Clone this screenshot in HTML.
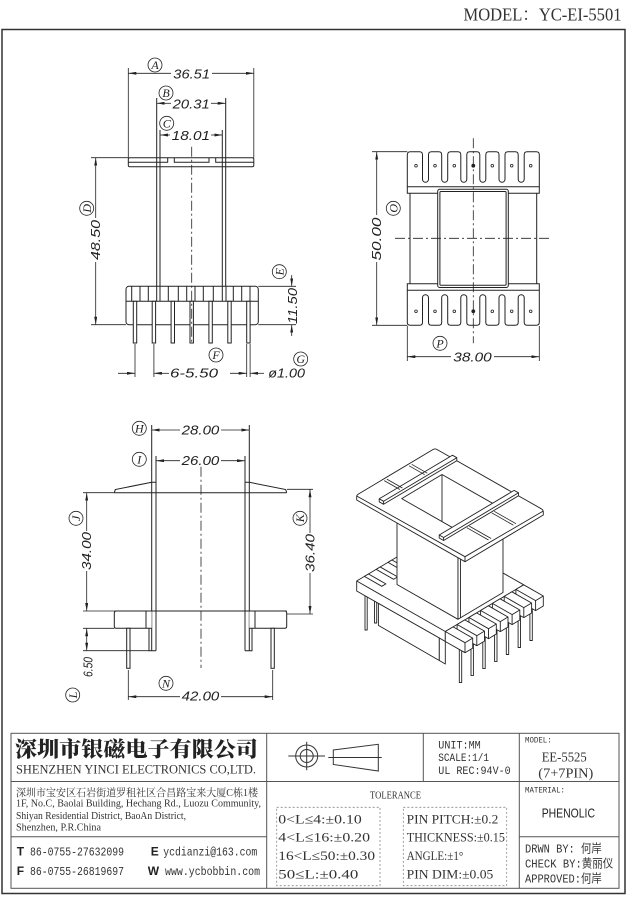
<!DOCTYPE html>
<html><head><meta charset="utf-8">
<style>
html,body{margin:0;padding:0;background:#fff;}
svg{display:block;}
.d{font-family:"Liberation Sans",sans-serif;font-style:italic;font-size:13px;fill:#222;}
.c{font-family:"Liberation Serif",serif;font-style:italic;font-size:12px;fill:#222;}
.t{font-family:"Liberation Serif","Noto Serif CJK SC",serif;fill:#333;}
.m{font-family:"Liberation Mono","Noto Sans CJK SC",monospace;fill:#333;}
</style></head><body>
<svg width="638" height="900" viewBox="0 0 638 900" xmlns="http://www.w3.org/2000/svg">
<defs>
<marker id="ar" viewBox="0 0 8 3" refX="8" refY="1.5" markerWidth="8" markerHeight="3" orient="auto-start-reverse" markerUnits="userSpaceOnUse"><path d="M0,0L8,1.5L0,3z" fill="#222"/></marker>
</defs>
<rect width="638" height="900" fill="#fff"/>

<!-- header -->
<text class="t" x="463.5" y="20.7" font-size="18" textLength="158" lengthAdjust="spacingAndGlyphs" fill="#222">MODEL：YC-EI-5501</text>
<rect x="2" y="29.5" width="623" height="864" fill="none" stroke="#333" stroke-width="1.5"/>

<!-- ================= VIEW 1 ================= -->
<g stroke="#222" stroke-width="1" fill="none">
  <rect x="128.3" y="157.7" width="125.5" height="9" rx="1.5" fill="#fff"/>
  <path d="M128.3,162.3H167.7V157.7M174.3,157.7V162.3H209V157.7M215.7,157.7V162.3H253.8"/>
  <path d="M156.7,98V286.3M160,130V286.3M222.3,130V286.3M225.7,98V286.3"/>
  <rect x="126" y="286.3" width="132.3" height="38.4" rx="3" fill="#fff"/>
  <path d="M126,301.3H258.3M131.7,286.3V301.3M140,286.3V301.3M148.3,286.3V301.3M156.7,286.3V301.3M160,286.3V301.3M168.3,286.3V301.3M178.3,286.3V301.3M186.7,286.3V301.3M195,286.3V301.3M203.3,286.3V301.3M213.3,286.3V301.3M222.3,286.3V301.3M226,286.3V301.3M233.3,286.3V301.3M241.7,286.3V301.3M250,286.3V301.3"/>
  <g fill="#fff">
    <rect x="133.3" y="301.3" width="3.4" height="41.7"/>
    <rect x="152.2" y="301.3" width="3.4" height="41.7"/>
    <rect x="171.1" y="301.3" width="3.4" height="41.7"/>
    <rect x="190" y="301.3" width="3.4" height="41.7"/>
    <rect x="208.9" y="301.3" width="3.4" height="41.7"/>
    <rect x="227.8" y="301.3" width="3.4" height="41.7"/>
    <rect x="246.7" y="301.3" width="3.4" height="41.7"/>
  </g>
  <path d="M191.7,146.7V343" stroke-dasharray="10 3 2 3" stroke-width="0.8"/>
</g>
<g stroke="#222" stroke-width="0.8" fill="none">
  <!-- ext lines -->
  <path d="M128.3,68V157.7M253.8,68V157.7M91,157.7H128.3M91,324.7H126M258.3,286.3H296M258.3,324.7H296M135,344V377M153.9,344V377M246.7,344V377M250.1,344V377"/>
  <!-- dims -->
  <path d="M128.3,73.3H171" marker-start="url(#ar)"/><path d="M212,73.3H253.8" marker-end="url(#ar)"/>
  <path d="M156.7,103.3H171" marker-start="url(#ar)"/><path d="M211,103.3H225.7" marker-end="url(#ar)"/>
  <path d="M160,135H170" marker-start="url(#ar)"/><path d="M211,135H222.3" marker-end="url(#ar)"/>
  <path d="M95.7,157.7V218" marker-start="url(#ar)"/><path d="M95.7,262V324.7" marker-end="url(#ar)"/>
  <path d="M291.7,275V286.3" marker-end="url(#ar)"/><path d="M291.7,336V324.7" marker-end="url(#ar)"/>
  <path d="M118,373.3H135" marker-end="url(#ar)"/><path d="M169,373.3H153.9" marker-end="url(#ar)"/>
  <path d="M230,373.3H246.7" marker-end="url(#ar)"/><path d="M264,373.3H250.1" marker-end="url(#ar)"/>
</g>
<text class="d" x="173.3" y="78.5" textLength="36.7" lengthAdjust="spacingAndGlyphs">36.51</text>
<text class="d" x="172.7" y="108.3" textLength="37" lengthAdjust="spacingAndGlyphs">20.31</text>
<text class="d" x="171.7" y="140" textLength="38.3" lengthAdjust="spacingAndGlyphs">18.01</text>
<text class="d" transform="translate(95.7,260) rotate(-90)" x="0" y="4.5" textLength="40" lengthAdjust="spacingAndGlyphs">48.50</text>
<text class="d" transform="translate(292.5,324) rotate(-90)" x="0" y="4.5" textLength="36" lengthAdjust="spacingAndGlyphs">11.50</text>
<text class="d" x="170" y="377.5" textLength="48" lengthAdjust="spacingAndGlyphs">6-5.50</text>
<text class="d" x="268.3" y="377.5" textLength="36.7" lengthAdjust="spacingAndGlyphs">ø1.00</text>
<g stroke="#222" stroke-width="0.8" fill="#fff">
  <circle cx="155" cy="65" r="7"/><circle cx="166" cy="93" r="7"/><circle cx="166.7" cy="123.3" r="7"/>
  <circle cx="86.7" cy="208.3" r="7"/><circle cx="279.3" cy="271.7" r="7"/>
  <circle cx="216" cy="355" r="7"/><circle cx="300.7" cy="359" r="7"/>
</g>
<text class="c" x="155" y="69.2" text-anchor="middle">A</text>
<text class="c" x="166" y="97.2" text-anchor="middle">B</text>
<text class="c" x="166.7" y="127.5" text-anchor="middle">C</text>
<text class="c" transform="translate(86.7,208.3) rotate(-90)" x="0" y="4.2" text-anchor="middle">D</text>
<text class="c" transform="translate(279.3,271.7) rotate(-90)" x="0" y="4.2" text-anchor="middle">E</text>
<text class="c" x="216" y="359.2" text-anchor="middle">F</text>
<text class="c" x="300.7" y="363.2" text-anchor="middle">G</text>

<!-- ================= VIEW 2 ================= -->
<g stroke="#222" stroke-width="1" fill="none">
  <g id="comb">
    <path fill="#fff" d="M407.3,193.3V154.7Q407.3,151.7 410.3,151.7H419.5Q422.5,151.7 422.5,154.7V179.3A3,3 0 0 0 428.5,179.3V154.7Q428.5,151.7 431.5,151.7H438.7Q441.7,151.7 441.7,154.7V179.3A3,3 0 0 0 447.7,179.3V154.7Q447.7,151.7 450.7,151.7H457.8Q460.8,151.7 460.8,154.7V179.3A3,3 0 0 0 466.8,179.3V154.7Q466.8,151.7 469.8,151.7H476.8Q479.8,151.7 479.8,154.7V179.3A3,3 0 0 0 485.8,179.3V154.7Q485.8,151.7 488.8,151.7H496Q499,151.7 499,154.7V179.3A3,3 0 0 0 505,179.3V154.7Q505,151.7 508,151.7H515.2Q518.2,151.7 518.2,154.7V179.3A3,3 0 0 0 524.2,179.3V154.7Q524.2,151.7 527.2,151.7H536.3Q539.3,151.7 539.3,154.7V193.3Z"/>
    <path d="M407.3,186.7H539.3"/>
    <g stroke-width="0.8">
      <circle cx="416" cy="165.7" r="1.3"/><circle cx="435" cy="165.7" r="1.3"/><circle cx="454.3" cy="165.7" r="1.3"/>
      <circle cx="473.3" cy="165.7" r="1.5" fill="#222"/><circle cx="492.3" cy="165.7" r="1.3"/><circle cx="511.7" cy="165.7" r="1.3"/><circle cx="530.7" cy="165.7" r="1.3"/>
    </g>
  </g>
  <use href="#comb" transform="matrix(1,0,0,-1,0,477)"/>
  <path d="M410,193.3V283.7M536.7,193.3V283.7"/>
  <rect x="437.7" y="189.3" width="70.6" height="98.2" rx="2" fill="#fff"/>
  <rect x="439.9" y="191.5" width="66.2" height="93.8" rx="1"/>
  <path d="M473.3,138.3V343.3M395,238.3H551.7" stroke-dasharray="10 3 2 3" stroke-width="0.8"/>
</g>
<g stroke="#222" stroke-width="0.8" fill="none">
  <path d="M372,151.7H407.3M372,325.3H407.3M407.3,326V361M539.3,326V361"/>
  <path d="M376.7,151.7V215" marker-start="url(#ar)"/><path d="M376.7,262V325.3" marker-end="url(#ar)"/>
  <path d="M407.3,356.7H451" marker-start="url(#ar)"/><path d="M494,356.7H539.3" marker-end="url(#ar)"/>
</g>
<text class="d" transform="translate(376.7,260.5) rotate(-90)" x="0" y="4.5" textLength="43" lengthAdjust="spacingAndGlyphs">50.00</text>
<text class="d" x="453.3" y="361.7" textLength="38.4" lengthAdjust="spacingAndGlyphs">38.00</text>
<g stroke="#222" stroke-width="0.8" fill="#fff"><circle cx="393.3" cy="208.3" r="7"/><circle cx="440" cy="343.3" r="7"/></g>
<text class="c" transform="translate(393.3,208.3) rotate(-90)" x="0" y="4.2" text-anchor="middle">O</text>
<text class="c" x="440" y="347.5" text-anchor="middle">P</text>

<!-- ================= VIEW 3 ================= -->
<g stroke="#222" stroke-width="1" fill="none">
  <g id="half3">
    <path d="M114.3,492.7L115.3,489.5L151.7,482.3"/>
    <path d="M151.7,425V650.7M156,456V650.7M151.7,482.3H156"/>
    <path fill="#fff" d="M151.7,611H116.3Q114.3,611 114.3,613V626.3Q114.3,628.3 116.3,628.3H151.7"/>
    <path d="M146,611V628.3M149,628.3V650.7H156"/>
    <rect x="126.7" y="628.3" width="3.3" height="40" fill="#fff"/>
  </g>
  <use href="#half3" transform="matrix(-1,0,0,1,401,0)"/>
  <path d="M114.3,492.7H286.7M114.3,611H286.7"/>
  <path d="M201,466.7V668" stroke-dasharray="10 3 2 3" stroke-width="0.8"/>
</g>
<g stroke="#222" stroke-width="0.8" fill="none">
  <path d="M83,492.7H114.3M83,611H114.3M83,628.3H114.3M83,650.7H149M287,489.3H313M287,614H313M128.3,670V700M272.7,670V700"/>
  <path d="M151.7,430H180" marker-start="url(#ar)"/><path d="M221,430H249.3" marker-end="url(#ar)"/>
  <path d="M156,460.7H180" marker-start="url(#ar)"/><path d="M221,460.7H245" marker-end="url(#ar)"/>
  <path d="M86.7,492.7V531" marker-start="url(#ar)"/><path d="M86.7,571V611" marker-end="url(#ar)"/>
  <path d="M310,489.3V533" marker-start="url(#ar)"/><path d="M310,573V614" marker-end="url(#ar)"/>
  <path d="M86.7,628.3V650.7" marker-start="url(#ar)" marker-end="url(#ar)"/>
  <path d="M128.3,696.7H180" marker-start="url(#ar)"/><path d="M221,696.7H272.7" marker-end="url(#ar)"/>
</g>
<text class="d" x="181.7" y="434.3" textLength="37.6" lengthAdjust="spacingAndGlyphs">28.00</text>
<text class="d" x="181.7" y="465" textLength="37.6" lengthAdjust="spacingAndGlyphs">26.00</text>
<text class="d" transform="translate(86.7,570) rotate(-90)" x="0" y="4.5" textLength="38" lengthAdjust="spacingAndGlyphs">34.00</text>
<text class="d" transform="translate(310,572) rotate(-90)" x="0" y="4.5" textLength="38" lengthAdjust="spacingAndGlyphs">36.40</text>
<text class="d" transform="translate(88,677) rotate(-90)" x="0" y="4.5" textLength="20" lengthAdjust="spacingAndGlyphs">6.50</text>
<text class="d" x="181.7" y="700.7" textLength="37.6" lengthAdjust="spacingAndGlyphs">42.00</text>
<g stroke="#222" stroke-width="0.8" fill="#fff">
  <circle cx="139.3" cy="428.3" r="7"/><circle cx="139.3" cy="459.3" r="7"/>
  <circle cx="76" cy="518.3" r="7"/><circle cx="300" cy="518.3" r="7"/>
  <circle cx="72.7" cy="695" r="7"/><circle cx="166" cy="683.3" r="7"/>
</g>
<text class="c" x="139.3" y="432.5" text-anchor="middle">H</text>
<text class="c" x="139.3" y="463.5" text-anchor="middle">I</text>
<text class="c" transform="translate(76,518.3) rotate(-90)" x="0" y="4.2" text-anchor="middle">J</text>
<text class="c" transform="translate(300,518.3) rotate(-90)" x="0" y="4.2" text-anchor="middle">K</text>
<text class="c" transform="translate(72.7,695) rotate(-90)" x="0" y="4.2" text-anchor="middle">L</text>
<text class="c" x="166" y="687.5" text-anchor="middle">N</text>

<!-- ================= VIEW 4 (3D) ================= -->
<g stroke="#222" stroke-width="0.9" fill="#fff" stroke-linejoin="round">
  <rect x="365" y="590" width="2.2" height="40"/>
  <rect x="374.5" y="596" width="2.2" height="27"/>
  <path d="M356.7,581L435,534.3L523.7,584.8V594.8L445.3,641.5L356.7,591Z"/>
  <path fill="none" d="M356.7,581L445.3,631.5L523.7,584.8M445.3,631.5V641.5"/>
  <path d="M378.4,603.4L439.3,638V660.5L378.4,625.4Z"/>
  <path d="M439.3,638L445.3,641.5V664L439.3,660.5Z"/>
  <path d="M364.4,576.4L381.8,586.3L385.9,583.9L368.5,574Z"/>
  <path d="M376.2,569.4L393.6,579.3L397.6,576.9L380.2,567Z"/>
  <path d="M388,562.4L405.4,572.3L409.4,569.9L392,560Z"/>
  <path d="M397,503.5L458,538.3V619.3L397,584.5Z"/>
  <path d="M458,538.3L503,511.5V592.5L458,619.3Z"/>
  <path fill="none" d="M460.5,537V618"/>
  <!-- front pins -->
  <rect x="459.3" y="645.6" width="2.4" height="37"/>
  <rect x="471" y="638.6" width="2.4" height="37"/>
  <rect x="482.8" y="631.6" width="2.4" height="37"/>
  <rect x="494.6" y="624.6" width="2.4" height="37"/>
  <rect x="506.3" y="617.5" width="2.4" height="37"/>
  <rect x="518.1" y="610.5" width="2.4" height="37"/>
  <rect x="529.9" y="603.5" width="2.4" height="37"/>
  <!-- fingers back to front -->
  <path d="M523.7,584.8L543.3,596V606L535.6,610.6L515.9,599.4V589.4Z"/>
  <path fill="none" d="M515.9,589.4L535.6,600.6L543.3,596M535.6,600.6V610.6"/>
  <path d="M511.9,591.8L531.6,603V613L523.8,617.6L504.2,606.4V596.4Z"/>
  <path fill="none" d="M504.2,596.4L523.8,607.6L531.6,603M523.8,607.6V617.6"/>
  <path d="M500.1,598.8L519.8,610V620L512.1,624.6L492.4,613.4V603.4Z"/>
  <path fill="none" d="M492.4,603.4L512.1,614.6L519.8,610M512.1,614.6V624.6"/>
  <path d="M488.4,605.8L508,617V627L500.3,631.6L480.6,620.5V610.5Z"/>
  <path fill="none" d="M480.6,610.5L500.3,621.6L508,617M500.3,621.6V631.6"/>
  <path d="M476.6,612.9L496.3,624V634L488.5,638.7L468.9,627.5V617.5Z"/>
  <path fill="none" d="M468.9,617.5L488.5,628.7L496.3,624M488.5,628.7V638.7"/>
  <path d="M464.8,619.9L484.5,631.1V641.1L476.8,645.7L457.1,634.5V624.5Z"/>
  <path fill="none" d="M457.1,624.5L476.8,635.7L484.5,631.1M476.8,635.7V645.7"/>
  <path d="M453.1,626.9L472.7,638.1V648.1L465,652.7L445.3,641.5V631.5Z"/>
  <path fill="none" d="M445.3,631.5L465,642.7L472.7,638.1M465,642.7V652.7"/>
  <!-- top plate -->
  <path d="M358.5,494L433,449.5Q435,448.3 437,449.5L541.3,508.8Q543.3,510 543.3,512V515L465,561.7L356.7,500V496.5Q356.7,495 358.5,494Z"/>
  <path fill="none" d="M356.7,496L465,556.7L543.3,511M465,556.7V561.7"/>
  <path d="M401.7,498.6L442,474.5L497.7,506.2L457.3,530.3Z"/>
  <path fill="none" d="M442,474.5V521.6"/>
  <!-- bars -->
  <path d="M379.2,498.8L452.4,455.2L456.8,457.7V460.7L383.6,504.3L379.2,501.8Z"/>
  <path fill="none" d="M379.2,498.8L383.6,501.3L456.8,457.7M383.6,501.3V504.3"/>
  <path d="M439.2,535L514.1,490.4L518.5,492.8V495.8L443.6,540.5L439.2,538Z"/>
  <path fill="none" d="M439.2,535L443.6,537.5L518.5,492.8M443.6,537.5V540.5"/>
  <!-- stripes -->
  <path fill="none" stroke-width="0.8" d="M384.2,480.6L399.9,489.5M386.8,479.1L402.4,488M409.1,465.8L424.7,474.7M411.7,464.3L427.3,473.2M466.8,527.7L488.5,540M469.3,526.1L491.1,538.5M491.7,512.8L513.4,525.2M494.2,511.3L516,523.7"/>
</g>

<!-- ================= TITLE BLOCK ================= -->
<g stroke="#555" stroke-width="1" fill="none">
  <rect x="11" y="733.3" width="608" height="155"/>
  <path d="M11,781.5H619M266.7,733.3V888.3M11,836.7H266.7M423.3,733.3V781.5M519.3,733.3V888.3M519.3,836.7H619"/>
</g>
<g stroke="#888" stroke-width="0.8" fill="none" stroke-dasharray="2 2">
  <rect x="276.7" y="807.3" width="103.3" height="78.4"/>
  <rect x="403.3" y="807.3" width="103.4" height="78.4"/>
</g>
<!-- symbols -->
<g stroke="#333" stroke-width="1" fill="none">
  <circle cx="306.7" cy="756" r="11"/>
  <circle cx="306.7" cy="756" r="6.5"/>
  <path d="M288.3,756H325M306.7,741.7V770.3"/>
  <path d="M333.3,750L378.3,744.3V771L333.3,764.5Z"/>
  <path d="M328.3,757.5H381.7"/>
</g>

<text x="15" y="756.5" font-family="'Noto Serif CJK SC','Noto Sans CJK SC',serif" font-weight="900" font-size="21" fill="#222" textLength="243" lengthAdjust="spacingAndGlyphs">深圳市银磁电子有限公司</text>
<text class="t" x="16" y="773.3" font-size="13" textLength="240" lengthAdjust="spacingAndGlyphs">SHENZHEN YINCI ELECTRONICS CO,LTD.</text>
<text class="t" x="16" y="796" font-size="10.5" fill="#444" textLength="242" lengthAdjust="spacingAndGlyphs">深圳市宝安区石岩街道罗租社区合昌路宝来大厦C栋1楼</text>
<text class="t" x="16" y="806.5" font-size="11" fill="#444" textLength="245" lengthAdjust="spacingAndGlyphs">1F, No.C, Baolai Building, Hechang Rd., Luozu Community,</text>
<text class="t" x="16" y="819" font-size="11" fill="#444" textLength="170" lengthAdjust="spacingAndGlyphs">Shiyan Residential District, BaoAn District,</text>
<text class="t" x="16" y="830.7" font-size="11" fill="#444" textLength="85" lengthAdjust="spacingAndGlyphs">Shenzhen, P.R.China</text>

<text x="16.7" y="855.7" font-family="'Liberation Sans',sans-serif" font-weight="bold" font-size="12" fill="#222">T</text>
<text class="m" x="30" y="855.7" font-size="12" textLength="94" lengthAdjust="spacingAndGlyphs">86-0755-27632099</text>
<text x="150.7" y="855.7" font-family="'Liberation Sans',sans-serif" font-weight="bold" font-size="12" fill="#222">E</text>
<text class="m" x="163.3" y="855.7" font-size="12" textLength="94" lengthAdjust="spacingAndGlyphs">ycdianzi@163.com</text>
<text x="16.7" y="875" font-family="'Liberation Sans',sans-serif" font-weight="bold" font-size="12" fill="#222">F</text>
<text class="m" x="30" y="875" font-size="12" textLength="94" lengthAdjust="spacingAndGlyphs">86-0755-26819697</text>
<text x="147.7" y="875" font-family="'Liberation Sans',sans-serif" font-weight="bold" font-size="12" fill="#222">W</text>
<text class="m" x="165" y="875" font-size="12" textLength="95" lengthAdjust="spacingAndGlyphs">www.ycbobbin.com</text>

<text class="m" x="438.3" y="748.3" font-size="11" textLength="42.4" lengthAdjust="spacingAndGlyphs">UNIT:MM</text>
<text class="m" x="438.3" y="761" font-size="11" textLength="50.7" lengthAdjust="spacingAndGlyphs">SCALE:1/1</text>
<text class="m" x="438.3" y="774" font-size="11" textLength="72.4" lengthAdjust="spacingAndGlyphs">UL REC:94V-0</text>

<text class="m" x="525" y="742.7" font-size="8" textLength="26.7" lengthAdjust="spacingAndGlyphs">MODEL:</text>
<text class="t" x="541.7" y="761.7" font-size="14" textLength="45" lengthAdjust="spacingAndGlyphs">EE-5525</text>
<text class="t" x="538.3" y="777.3" font-size="14" textLength="55" lengthAdjust="spacingAndGlyphs">(7+7PIN)</text>
<text class="m" x="525" y="792.7" font-size="8" textLength="40" lengthAdjust="spacingAndGlyphs">MATERIAL:</text>
<text x="541.7" y="817.3" font-family="'Liberation Sans',sans-serif" font-size="13" fill="#222" textLength="53.3" lengthAdjust="spacingAndGlyphs">PHENOLIC</text>
<text class="m" x="525" y="852.7" font-size="12" textLength="76.7" lengthAdjust="spacingAndGlyphs">DRWN BY: 何岸</text>
<text class="m" x="525" y="867.3" font-size="12" textLength="88.3" lengthAdjust="spacingAndGlyphs">CHECK BY:黄丽仪</text>
<text class="m" x="525" y="882.3" font-size="12" textLength="76.7" lengthAdjust="spacingAndGlyphs">APPROVED:何岸</text>

<text class="t" x="370" y="798.3" font-size="11" textLength="51" lengthAdjust="spacingAndGlyphs">TOLERANCE</text>
<text class="t" x="278.3" y="823.3" font-size="13" textLength="83.4" lengthAdjust="spacingAndGlyphs">0&lt;L≤4:±0.10</text>
<text class="t" x="278.3" y="841.7" font-size="13" textLength="91.7" lengthAdjust="spacingAndGlyphs">4&lt;L≤16:±0.20</text>
<text class="t" x="278.3" y="860" font-size="13" textLength="96.7" lengthAdjust="spacingAndGlyphs">16&lt;L≤50:±0.30</text>
<text class="t" x="278.3" y="878.3" font-size="13" textLength="80" lengthAdjust="spacingAndGlyphs">50≤L:±0.40</text>
<text class="t" x="406.7" y="823.3" font-size="13" textLength="91.6" lengthAdjust="spacingAndGlyphs">PIN PITCH:±0.2</text>
<text class="t" x="406.7" y="841.7" font-size="13" textLength="98.3" lengthAdjust="spacingAndGlyphs">THICKNESS:±0.15</text>
<text class="t" x="406.7" y="860" font-size="13" textLength="56.6" lengthAdjust="spacingAndGlyphs">ANGLE:±1°</text>
<text class="t" x="406.7" y="878.3" font-size="13" textLength="86.6" lengthAdjust="spacingAndGlyphs">PIN DIM:±0.05</text>
</svg>
</body></html>
